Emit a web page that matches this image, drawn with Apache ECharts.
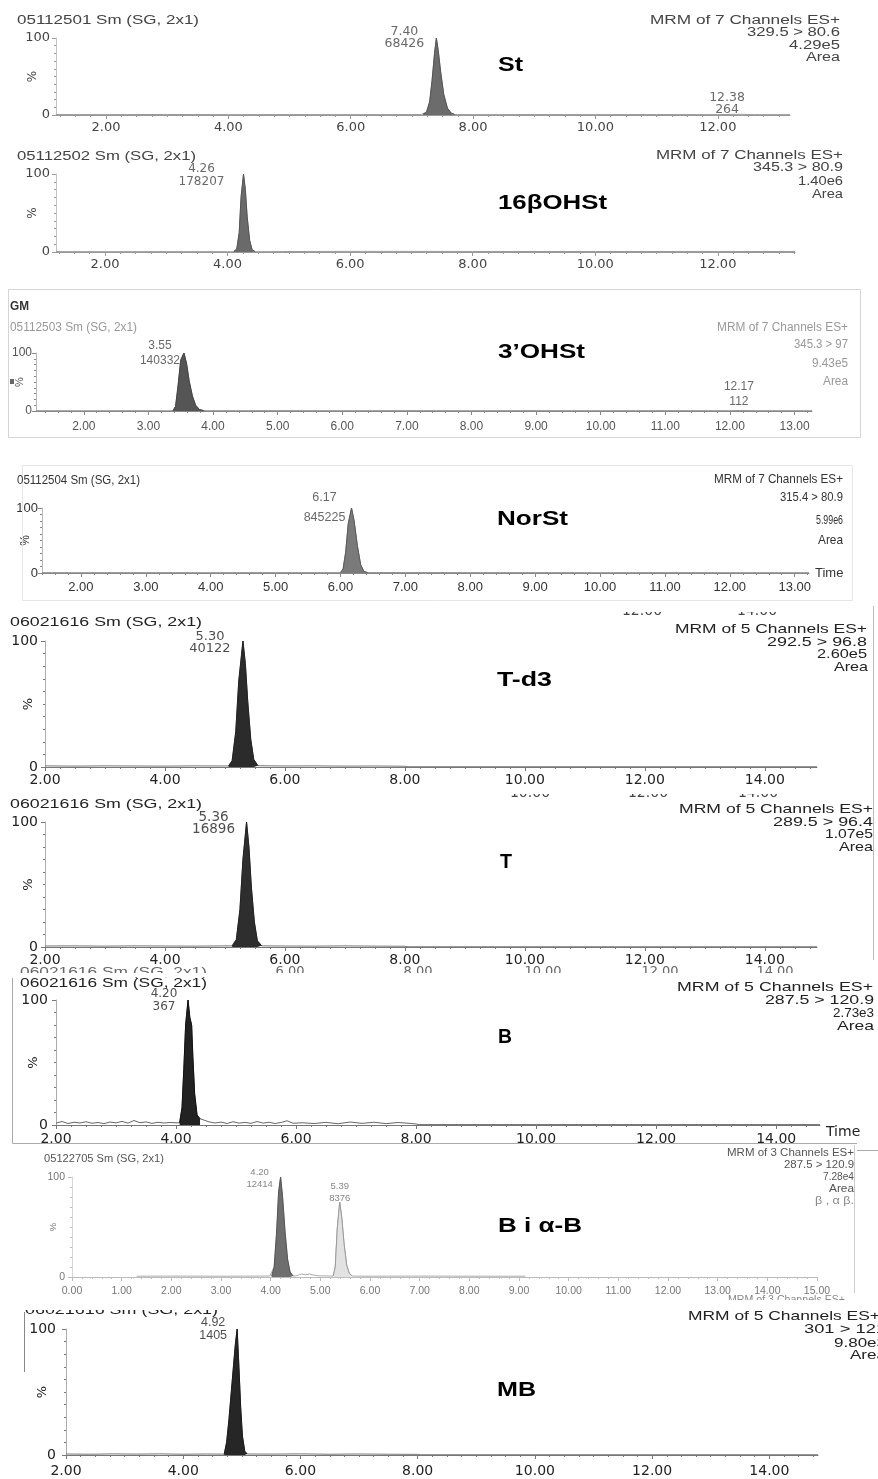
<!DOCTYPE html>
<html>
<head>
<meta charset="utf-8">
<script src="https://cdn.jsdelivr.net/npm/echarts@6/dist/echarts.min.js"></script>
<style>
  html, body { margin: 0; padding: 0; background: #fff; }
  #chart { width: 878px; height: 1479px; }
</style>
</head>
<body>
<div id="chart"></div>
<script>
// ---- Chromatogram traces: [retention time (min), relative intensity (%)] ----
const stBase = [[1.18,0.6],[2.0,0.5],[3.0,0.7],[4.0,0.5],[5.0,0.6],[6.0,0.5],[7.0,0.6],[7.15,0.6],[7.75,0.6],[8.0,0.5],[9.0,0.6],[10.0,0.5],[11.0,0.6],[12.0,0.5],[12.38,0.9],[12.6,0.5],[13.18,0.5]];
const stPeak = [[7.18,0.6],[7.24,4],[7.29,17],[7.33,45],[7.37,80],[7.40,100],[7.43,84],[7.47,56],[7.52,27],[7.58,9],[7.64,2.5],[7.70,0.7]];
const stMarks = [[7.40,100,68426],[12.38,0.9,264]];

const ohBase = [[1.2,0.5],[2.0,0.4],[3.0,0.5],[4.0,0.4],[4.05,0.4],[4.5,0.4],[4.9,0.6],[6.0,0.8],[8.0,0.7],[10.0,0.6],[12.0,0.7],[13.26,0.6]];
const ohPeak = [[4.10,0.4],[4.15,4],[4.19,25],[4.22,70],[4.26,100],[4.29,80],[4.32,45],[4.36,15],[4.40,3],[4.45,0.5]];
const ohMarks = [[4.26,100,178207]];

const oh3Base = [[1.26,0.4],[2.0,0.3],[3.0,0.4],[3.3,0.3],[3.95,0.4],[5.0,0.5],[6.0,0.4],[7.0,0.5],[8.0,0.4],[9.0,0.5],[10.0,0.4],[11.0,0.5],[12.0,0.4],[12.17,0.6],[12.4,0.4],[13.27,0.4]];
const oh3Peak = [[3.38,0.4],[3.42,8],[3.46,45],[3.50,88],[3.55,100],[3.59,82],[3.63,52],[3.68,26],[3.73,10],[3.79,2.5],[3.86,0.5]];
const oh3Marks = [[3.55,100,140332],[12.17,0.6,112]];

const norBase = [[1.4,0.5],[2.0,0.4],[3.0,0.5],[4.0,0.4],[5.0,0.5],[5.9,0.5],[6.5,0.6],[7.0,0.6],[8.0,0.5],[9.0,0.5],[10.0,0.4],[11.0,0.5],[12.0,0.4],[13.22,0.4]];
const norPeak = [[6.00,0.5],[6.04,6],[6.08,32],[6.12,76],[6.17,100],[6.21,80],[6.26,42],[6.31,13],[6.36,2.5],[6.42,0.5]];
const norMarks = [[6.17,100,845225]];

const td3Base = [[2.0,0.9],[2.5,0.7],[3.0,0.9],[3.5,0.8],[4.0,0.7],[4.5,0.9],[5.0,0.8],[5.6,1.0],[6.0,0.8],[6.5,0.9],[7.0,0.7],[7.5,0.8],[8.0,0.6],[8.05,0.2],[10.0,0.2],[12.0,0.2],[14.87,0.2]];
const td3Peak = [[5.06,0.8],[5.12,5],[5.18,28],[5.23,68],[5.30,100],[5.34,82],[5.38,52],[5.43,22],[5.48,6],[5.55,1.0]];
const td3Marks = [[5.30,100,40122]];

const tBase = [[2.0,0.8],[2.5,0.9],[3.0,0.7],[3.5,0.9],[4.0,0.8],[4.5,0.7],[5.0,0.9],[5.65,0.9],[6.0,0.8],[6.5,0.7],[7.0,0.9],[7.5,0.7],[8.0,0.6],[8.05,0.2],[10.0,0.2],[12.0,0.2],[14.87,0.2]];
const tPeak = [[5.12,0.9],[5.19,6],[5.25,30],[5.30,70],[5.36,100],[5.40,80],[5.44,48],[5.49,20],[5.54,5],[5.61,1.0]];
const tMarks = [[5.36,100,16896]];

const bBase = [[2.0,1.5],[2.1,2.8],[2.2,1.2],[2.3,2.2],[2.4,1.6],[2.5,2.6],[2.6,1.4],[2.7,2.0],[2.8,1.1],[2.9,2.4],[3.0,1.7],[3.1,2.9],[3.2,1.5],[3.3,3.6],[3.4,1.8],[3.5,2.5],[3.6,1.3],[3.7,2.2],[3.8,1.6],[3.9,2.0],[4.0,1.8],
  [4.45,4.2],[4.55,2.5],[4.65,1.6],[4.75,2.3],[4.85,1.2],[4.95,2.6],[5.05,1.5],[5.15,2.1],[5.25,1.3],[5.35,2.8],[5.45,1.5],[5.55,2.2],[5.65,1.2],[5.75,2.0],[5.85,3.4],[5.95,1.4],[6.1,1.8],[6.3,1.2],[6.5,2.1],[6.7,1.0],[6.9,2.4],[7.1,1.3],[7.3,2.2],[7.5,1.1],[7.7,2.0],[7.9,1.3],[8.0,0.8],[8.05,0.3],[10.0,0.3],[12.0,0.3],[14.73,0.3]];
const bPeak = [[4.06,1.8],[4.10,14],[4.13,45],[4.16,80],[4.20,100],[4.23,86],[4.26,80],[4.28,55],[4.31,25],[4.35,8],[4.40,5]];
const bMarks = [[4.20,100,367]];

const b2Base = [[1.3,0.8],[2.0,0.9],[3.0,0.8],[3.8,0.9],[3.98,1.0],[4.50,1.0],[4.56,2.0],[4.62,3.0],[4.70,2.2],[4.78,3.0],[4.86,2.0],[4.95,1.2],[5.2,1.0],[5.7,0.9],[6.0,0.8],[7.0,0.9],[8.0,0.8],[9.13,0.8]];
const b2Peak1 = [[4.02,1.0],[4.07,10],[4.12,45],[4.16,85],[4.20,100],[4.24,80],[4.29,45],[4.34,18],[4.39,5],[4.45,1.0]];
const b2Peak2 = [[5.26,1.0],[5.30,10],[5.34,48],[5.39,75],[5.43,60],[5.48,32],[5.53,12],[5.58,4],[5.64,1.0]];
const b2Marks = [[4.20,100,12414],[5.39,75,8376]];

const mbBase = [[2.0,0.8],[2.4,0.6],[2.8,0.9],[3.2,0.7],[3.6,0.9],[4.0,0.6],[4.4,0.8],[4.65,0.7],[5.12,0.9],[5.5,0.7],[6.0,0.9],[6.5,0.6],[7.0,0.8],[7.5,0.6],[8.0,0.5],[8.05,0.2],[10.0,0.2],[12.0,0.2],[14.83,0.2]];
const mbPeak = [[4.70,0.7],[4.74,10],[4.78,28],[4.82,50],[4.86,72],[4.89,88],[4.92,100],[4.95,70],[4.98,38],[5.01,15],[5.05,3],[5.09,0.8]];
const mbMarks = [[4.92,100,1405]];

// ---- Time axis tick labels ----
const ticksEven12 = [2,4,6,8,10,12];
const ticksUnit13 = [2,3,4,5,6,7,8,9,10,11,12,13];
const ticksEven14 = [2,4,6,8,10,12,14];
const ticksUnit15 = [0,1,2,3,4,5,6,7,8,9,10,11,12,13,14,15];

// ---- Fonts ----
const WIDE = "'DejaVu Sans', 'Liberation Sans', sans-serif";
const ARIAL = "'Liberation Sans', Arial, sans-serif";
const NARROW = "'Liberation Sans Narrow', 'Arial Narrow', 'Liberation Sans', sans-serif";

// ---- Panel layout ----
const panels = [
  { grid:{left:56, top:38, width:734, height:77}, xMin:1.183, xMax:13.18, ticks:ticksEven12, minorStep:0.25,
    base:stBase, peaks:[{data:stPeak, fill:'#6c6c6c', stroke:'#555'}], marks:stMarks, markOffsets:[[-32,0],[-14,-11]],
    trace:'#999', axisColor:'#999', font:WIDE, size:13, color:'#444', xMargin:6, yMargin:6, pctGap:17,
    markFont:{family:WIDE, size:12.5, lh:12, color:'#444'} },
  { grid:{left:56, top:174, width:739, height:78}, xMin:1.2, xMax:13.26, ticks:ticksEven12, minorStep:0.25,
    base:ohBase, peaks:[{data:ohPeak, fill:'#6a6a6a', stroke:'#555'}], marks:ohMarks, markOffsets:[[-42,1]],
    trace:'#999', axisColor:'#999', font:WIDE, size:13, color:'#444', xMargin:6, yMargin:6, pctGap:17,
    markFont:{family:WIDE, size:12, lh:13, color:'#444'} },
  { grid:{left:36, top:353, width:776, height:58}, xMin:1.26, xMax:13.27, ticks:ticksUnit13, minorStep:0.2,
    base:oh3Base, peaks:[{data:oh3Peak, fill:'#555', stroke:'#444'}], marks:oh3Marks, markOffsets:[[-24,0],[-2,-16]],
    trace:'#888', axisColor:'#888', font:ARIAL, size:12, color:'#555', xMargin:10, yMargin:4, pctGap:11,
    markFont:{family:ARIAL, size:12, lh:15, color:'#444'} },
  { grid:{left:42, top:508, width:767, height:65}, xMin:1.4, xMax:13.22, ticks:ticksUnit13, minorStep:0.2,
    base:norBase, peaks:[{data:norPeak, fill:'#7a7a7a', stroke:'#5a5a5a'}], marks:norMarks, markOffsets:[[-27,0]],
    trace:'#888', axisColor:'#888', font:NARROW, size:13, color:'#333', xMargin:8, yMargin:4, pctGap:10,
    markFont:{family:NARROW, size:12.5, lh:20, color:'#444'}, timeName:{gap:6, valign:'middle'} },
  { grid:{left:45, top:641, width:772, height:126}, xMin:2, xMax:14.87, ticks:ticksEven14, minorStep:0.25,
    base:td3Base, peaks:[{data:td3Peak, fill:'#2b2b2b', stroke:'#222'}], marks:td3Marks, markOffsets:[[-33,2]],
    trace:'#777', axisColor:'#777', font:WIDE, size:14, color:'#222', xMargin:6, yMargin:7, pctGap:10,
    markFont:{family:WIDE, size:13, lh:12, color:'#222'} },
  { grid:{left:45, top:822, width:772, height:125}, xMin:2, xMax:14.87, ticks:ticksEven14, minorStep:0.25,
    base:tBase, peaks:[{data:tPeak, fill:'#2e2e2e', stroke:'#222'}], marks:tMarks, markOffsets:[[-33,1]],
    trace:'#777', axisColor:'#777', font:WIDE, size:14, color:'#222', xMargin:6, yMargin:7, pctGap:10,
    markFont:{family:WIDE, size:13.5, lh:12, color:'#222'} },
  { grid:{left:56, top:1000, width:764, height:125}, xMin:2, xMax:14.73, ticks:ticksEven14, minorStep:0.25,
    base:bBase, peaks:[{data:bPeak, fill:'#222', stroke:'#111'}], marks:bMarks, markOffsets:[[-24,0]],
    trace:'#666', axisColor:'#777', font:WIDE, size:14, color:'#222', xMargin:7, yMargin:8, pctGap:16,
    markFont:{family:WIDE, size:12, lh:13, color:'#222'}, timeName:{gap:6, valign:'top'} },
  { grid:{left:72, top:1177, width:745, height:100}, xMin:0, xMax:15, ticks:ticksUnit15, minorStep:0.2,
    base:b2Base, peaks:[{data:b2Peak1, fill:'#6e6e6e', stroke:'#555'}, {data:b2Peak2, fill:'#e2e2e2', stroke:'#9a9a9a'}],
    marks:b2Marks, markOffsets:[[-21,1],[0,-10]],
    trace:'#aaa', axisColor:'#bbb', font:NARROW, size:10.5, color:'#777', xMargin:9, yMargin:7, pctGap:14,
    markFont:{family:ARIAL, size:9.5, lh:12, color:'#666'} },
  { grid:{left:66, top:1329, width:752, height:126}, xMin:2, xMax:14.83, ticks:ticksEven14, minorStep:0.25,
    base:mbBase, peaks:[{data:mbPeak, fill:'#262626', stroke:'#1a1a1a'}], marks:mbMarks, markOffsets:[[-24,0]],
    trace:'#777', axisColor:'#777', font:WIDE, size:14, color:'#222', xMargin:9, yMargin:10, pctGap:17,
    markFont:{family:ARIAL, size:12.5, lh:13, color:'#222'} }
];

const grids = [], xAxes = [], yAxes = [], series = [];

panels.forEach((p, i) => {
  grids.push(Object.assign({ containLabel: false, outerBoundsMode: 'none' }, p.grid));
  const line = { color: p.axisColor, width: 1 };
  const minorVals = [];
  for (let k = Math.ceil(p.xMin / p.minorStep - 1e-9); k * p.minorStep <= p.xMax + 1e-9; k++) {
    minorVals.push(+(k * p.minorStep).toFixed(3));
  }
  xAxes.push({
    type: 'value', gridIndex: i, position: 'bottom', min: p.xMin, max: p.xMax,
    name: p.timeName ? 'Time' : '', nameLocation: 'end', nameGap: p.timeName ? p.timeName.gap : 0,
    nameMoveOverlap: false,
    nameTextStyle: { fontFamily: p.font, fontSize: p.size, color: p.color,
                     verticalAlign: p.timeName ? p.timeName.valign : 'middle' },
    axisLine: { show: true, onZero: false, lineStyle: line },
    axisTick: { show: true, customValues: p.ticks, length: 4, lineStyle: line },
    axisLabel: { show: true, customValues: p.ticks, formatter: v => v.toFixed(2), margin: p.xMargin,
                 fontFamily: p.font, fontSize: p.size, color: p.color },
    splitLine: { show: false }
  });
  xAxes.push({
    type: 'value', gridIndex: i, position: 'bottom', min: p.xMin, max: p.xMax,
    axisLine: { show: false, onZero: false },
    axisTick: { show: true, customValues: minorVals, length: 2, lineStyle: line },
    axisLabel: { show: false }, splitLine: { show: false }
  });
  yAxes.push({
    type: 'value', gridIndex: i, min: 0, max: 100, interval: 100,
    name: '%', nameLocation: 'middle', nameRotate: 90, nameGap: p.pctGap, nameMoveOverlap: false,
    nameTextStyle: { fontFamily: p.font, fontSize: p.size - 1, color: p.color },
    axisLine: { show: true, lineStyle: { color: p.axisColor, width: 1, opacity: 0.6 } },
    axisTick: { show: true, length: 4, lineStyle: line },
    minorTick: { show: true, splitNumber: 10, length: 2, lineStyle: line },
    axisLabel: { margin: p.yMargin, fontFamily: p.font, fontSize: p.size, color: p.color },
    splitLine: { show: false }, minorSplitLine: { show: false }
  });

  const xi = 2 * i;
  const trace = p.base.concat(...p.peaks.map(k => k.data)).sort((a, b) => a[0] - b[0]);
  series.push({
    type: 'line', xAxisIndex: xi, yAxisIndex: i, data: trace, symbol: 'none', showSymbol: false,
    lineStyle: { color: p.trace, width: 1 }, silent: true, z: 2
  });
  p.peaks.forEach(k => series.push({
    type: 'line', xAxisIndex: xi, yAxisIndex: i, data: k.data, symbol: 'none', showSymbol: false,
    lineStyle: { color: k.stroke, width: 1 }, areaStyle: { color: k.fill, opacity: 1 }, silent: true, z: 3
  }));
  series.push({
    type: 'scatter', xAxisIndex: xi, yAxisIndex: i, symbolSize: 1, silent: true, z: 4,
    itemStyle: { color: 'rgba(0,0,0,0)' },
    data: p.marks.map((m, j) => ({
      value: [m[0], m[1]],
      label: { show: true, position: 'inside', offset: p.markOffsets[j],
               formatter: m[0].toFixed(2) + '\n' + m[2],
               fontFamily: p.markFont.family, fontSize: p.markFont.size, lineHeight: p.markFont.lh,
               color: p.markFont.color, align: 'center' }
    }))
  });
});

// ---- Header texts, compound names and frames ----
const mctx = document.createElement('canvas').getContext('2d');
function txt(s, x, y, o) {
  const font = (o.bold ? 'bold ' : '') + o.size + 'px ' + (o.family || ARIAL);
  mctx.font = font;
  const natural = mctx.measureText(s).width || 1;
  return { type: 'text', x: x, y: y, scaleX: o.w ? o.w / natural : 1, z: o.z || 10,
    style: { text: s, font: font, fill: o.color || '#333', textAlign: o.align || 'left', textVerticalAlign: 'middle' } };
}
function cover(x, y, w, h) {
  return { type: 'rect', z: 20, shape: { x: x, y: y, width: w, height: h }, style: { fill: '#fff' } };
}
function hline(x1, y1, x2, y2, c) {
  return { type: 'line', z: 5, shape: { x1: x1, y1: y1, x2: x2, y2: y2 }, style: { stroke: c, lineWidth: 1 } };
}
const NAME = { size: 20, bold: true, color: '#000', family: ARIAL };
const nm = (s, x, y, w) => txt(s, x, y, Object.assign({ w: w }, NAME));

const graphics = [
  // St
  txt('05112501 Sm (SG, 2x1)', 17, 21, { size: 12.5, w: 182, color: '#444' }),
  txt('MRM of 7 Channels ES+', 840, 21, { size: 12.5, w: 190, color: '#444', align: 'right' }),
  txt('329.5 > 80.6', 840, 33, { size: 12.5, w: 93, color: '#444', align: 'right' }),
  txt('4.29e5', 840, 46, { size: 12.5, w: 51, color: '#444', align: 'right' }),
  txt('Area', 840, 58, { size: 12.5, w: 34, color: '#444', align: 'right' }),
  nm('St', 498, 65, 25),
  // 16βOHSt
  txt('05112502 Sm (SG, 2x1)', 17, 157, { size: 12.5, w: 179, color: '#444' }),
  txt('MRM of 7 Channels ES+', 843, 156, { size: 12.5, w: 187, color: '#444', align: 'right' }),
  txt('345.3 > 80.9', 843, 168, { size: 12.5, w: 90, color: '#444', align: 'right' }),
  txt('1.40e6', 843, 182, { size: 12.5, w: 45, color: '#444', align: 'right' }),
  txt('Area', 843, 195, { size: 12.5, w: 31, color: '#444', align: 'right' }),
  nm('16βOHSt', 498, 203, 109),
  // 3'OHSt
  { type: 'rect', z: 1, shape: { x: 8.5, y: 289.5, width: 852, height: 148 }, style: { fill: 'none', stroke: '#d5d5d5', lineWidth: 1 } },
  txt('GM', 10, 306, { size: 13, bold: true, w: 19, color: '#333' }),
  txt('05112503 Sm (SG, 2x1)', 10, 328, { size: 12, w: 127, color: '#999' }),
  txt('MRM of 7 Channels ES+', 848, 328, { size: 12, w: 131, color: '#999', align: 'right' }),
  txt('345.3 > 97', 848, 345, { size: 12, w: 54, color: '#999', align: 'right' }),
  txt('9.43e5', 848, 364, { size: 12, w: 36, color: '#999', align: 'right' }),
  txt('Area', 848, 382, { size: 12, w: 25, color: '#999', align: 'right' }),
  { type: 'rect', z: 5, shape: { x: 10, y: 379, width: 4, height: 5 }, style: { fill: '#666' } },
  nm('3’OHSt', 498, 352, 87),
  // NorSt
  { type: 'rect', z: 1, shape: { x: 22.5, y: 465.5, width: 830, height: 135 }, style: { fill: 'none', stroke: '#e6e6e6', lineWidth: 1 } },
  txt('05112504 Sm (SG, 2x1)', 17, 480, { size: 13, w: 123, color: '#333' }),
  txt('MRM of 7 Channels ES+', 843, 479, { size: 13, w: 129, color: '#333', align: 'right' }),
  txt('315.4 > 80.9', 843, 497, { size: 13, w: 63, color: '#333', align: 'right' }),
  txt('5.99e6', 843, 520, { size: 13, w: 27, color: '#333', align: 'right' }),
  txt('Area', 843, 540, { size: 13, w: 25, color: '#333', align: 'right' }),
  nm('NorSt', 497, 519, 71),
  // T-d3
  txt('12.00', 642, 611, { size: 14, family: WIDE, color: '#444', align: 'center' }),
  txt('14.00', 757, 611, { size: 14, family: WIDE, color: '#444', align: 'center' }),
  cover(600, 603, 200, 9),
  hline(873.5, 606, 873.5, 960, '#bbb'),
  txt('06021616 Sm (SG, 2x1)', 10, 622, { size: 13, w: 192, color: '#222' }),
  txt('MRM of 5 Channels ES+', 867, 629, { size: 13, w: 192, color: '#222', align: 'right' }),
  txt('292.5 > 96.8', 867, 642, { size: 13, w: 100, color: '#222', align: 'right' }),
  txt('2.60e5', 867, 654, { size: 13, w: 50, color: '#222', align: 'right' }),
  txt('Area', 868, 667, { size: 13, w: 34, color: '#222', align: 'right' }),
  nm('T-d3', 497, 680, 55),
  // T
  txt('10.00', 530, 793, { size: 14, family: WIDE, color: '#444', align: 'center' }),
  txt('12.00', 648, 793, { size: 14, family: WIDE, color: '#444', align: 'center' }),
  txt('14.00', 758, 793, { size: 14, family: WIDE, color: '#444', align: 'center' }),
  cover(480, 787, 320, 7),
  txt('06021616 Sm (SG, 2x1)', 10, 804, { size: 13, w: 192, color: '#222' }),
  txt('MRM of 5 Channels ES+', 873, 809, { size: 13, w: 194, color: '#222', align: 'right' }),
  txt('289.5 > 96.4', 873, 822, { size: 13, w: 100, color: '#222', align: 'right' }),
  txt('1.07e5', 873, 834, { size: 13, w: 48, color: '#222', align: 'right' }),
  txt('Area', 873, 847, { size: 13, w: 34, color: '#222', align: 'right' }),
  nm('T', 500, 862, 12),
  // B
  txt('06021616 Sm (SG, 2x1)', 20, 972, { size: 13, w: 187, color: '#666' }),
  txt('6.00', 290, 972, { size: 13, family: WIDE, color: '#666', align: 'center' }),
  txt('8.00', 418, 972, { size: 13, family: WIDE, color: '#666', align: 'center' }),
  txt('10.00', 543, 972, { size: 13, family: WIDE, color: '#666', align: 'center' }),
  txt('12.00', 660, 972, { size: 13, family: WIDE, color: '#666', align: 'center' }),
  txt('14.00', 775, 972, { size: 13, family: WIDE, color: '#666', align: 'center' }),
  cover(0, 973, 878, 4),
  { type: 'polyline', z: 5, shape: { points: [[12.5, 978], [12.5, 1143.5], [857, 1143.5]] }, style: { stroke: '#aaa', lineWidth: 1, fill: 'none' } },
  hline(857, 1150.5, 878, 1150.5, '#aaa'),
  txt('06021616 Sm (SG, 2x1)', 20, 983, { size: 13, w: 187, color: '#222' }),
  txt('MRM of 5 Channels ES+', 873, 987, { size: 13, w: 196, color: '#222', align: 'right' }),
  txt('287.5 > 120.9', 874, 1000, { size: 13, w: 109, color: '#222', align: 'right' }),
  txt('2.73e3', 874, 1013, { size: 13, w: 41, color: '#222', align: 'right' }),
  txt('Area', 874, 1026, { size: 13, w: 37, color: '#222', align: 'right' }),
  nm('B', 498, 1037, 14),
  // B i α-B
  hline(854.5, 1145, 854.5, 1293, '#ccc'),
  txt('05122705 Sm (SG, 2x1)', 44, 1159, { size: 10.5, w: 120, color: '#555' }),
  txt('MRM of 3 Channels ES+', 854, 1153, { size: 10, w: 127, color: '#555', align: 'right' }),
  txt('287.5 > 120.9', 854, 1165, { size: 10, w: 70, color: '#555', align: 'right' }),
  txt('7.28e4', 854, 1177, { size: 10, w: 31, color: '#555', align: 'right' }),
  txt('Area', 854, 1189, { size: 10, w: 25, color: '#555', align: 'right' }),
  txt('β , α β.', 854, 1201, { size: 10, w: 39, color: '#888', align: 'right' }),
  nm('B i α-B', 498, 1226, 84),
  txt('MRM of 3 Channels ES+', 845, 1300, { size: 10, w: 117, color: '#888', align: 'right' }),
  cover(700, 1300, 178, 8),
  // MB
  txt('06021616 Sm (SG, 2x1)', 25, 1310, { size: 13, w: 193, color: '#222' }),
  cover(20, 1299, 230, 11),
  hline(24.5, 1312, 24.5, 1372, '#888'),
  txt('MRM of 5 Channels ES+', 880, 1316, { size: 13, w: 192, color: '#222', align: 'right' }),
  txt('301 > 121', 886, 1329, { size: 13, w: 82, color: '#222', align: 'right' }),
  txt('9.80e3', 886, 1343, { size: 13, w: 52, color: '#222', align: 'right' }),
  txt('Area', 886, 1355, { size: 13, w: 36, color: '#222', align: 'right' }),
  nm('MB', 497, 1390, 39),
  txt('06021616 Sm (SG, 2x1)', 22, 1484, { size: 13, w: 191, color: '#333' })
];

const chart = echarts.init(document.getElementById('chart'), null, { renderer: 'canvas' });
chart.setOption({
  backgroundColor: '#fff',
  animation: false,
  grid: grids,
  xAxis: xAxes,
  yAxis: yAxes,
  series: series,
  graphic: { elements: graphics }
});
</script>
</body>
</html>
